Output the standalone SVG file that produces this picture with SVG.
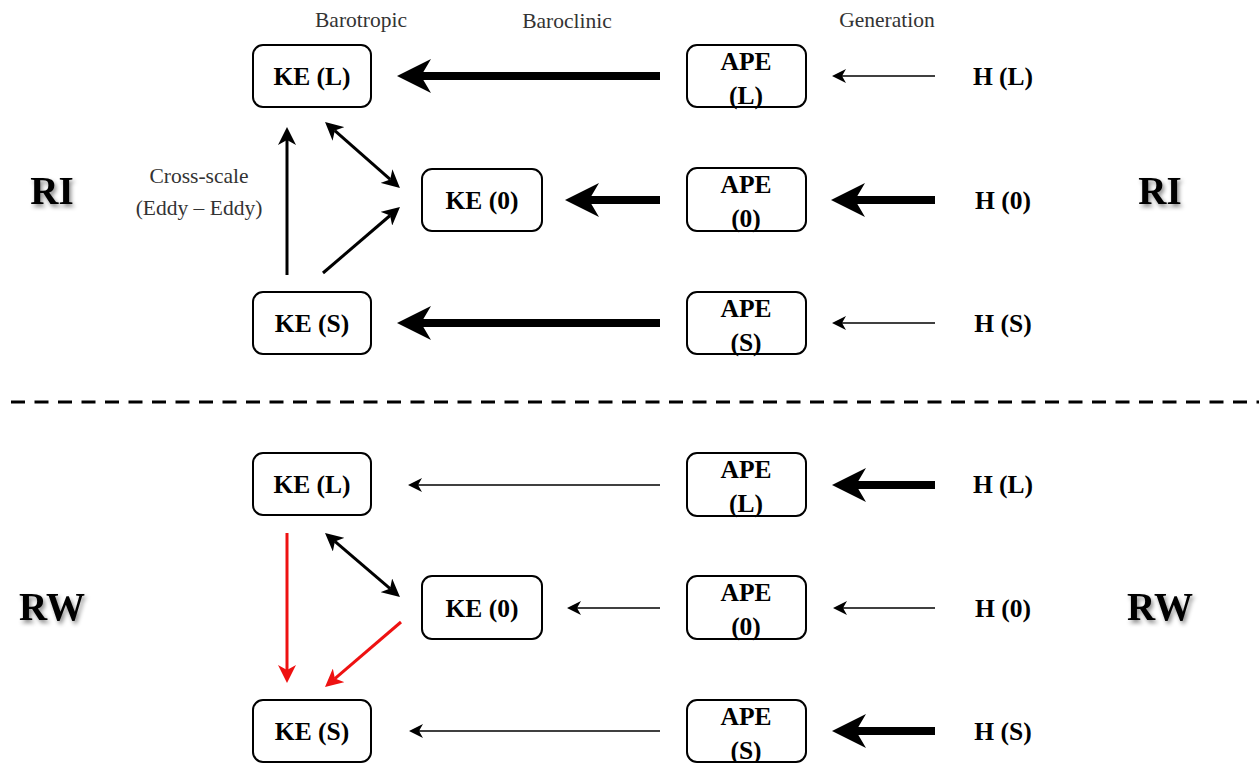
<svg xmlns="http://www.w3.org/2000/svg" width="1259" height="763" viewBox="0 0 1259 763">
<style>
.box{fill:#fff;stroke:#000;stroke-width:2}
.lbl{font-family:"Liberation Serif","Times New Roman",serif;font-weight:bold;font-size:25.5px;fill:#000;text-anchor:middle}
.hdr{font-family:"Liberation Serif","Times New Roman",serif;font-size:21.5px;fill:#333;text-anchor:middle}
.big{font-family:"Liberation Serif","Times New Roman",serif;font-weight:bold;font-size:39px;fill:#000;text-anchor:middle;filter:url(#sh)}
.thick{stroke:#000;stroke-width:8;fill:none;marker-end:url(#mBig)}
.thin{stroke:#000;stroke-width:1.5;fill:none;marker-end:url(#mSmall)}
.med{stroke:#000;stroke-width:3;fill:none;marker-end:url(#mMed)}
.dbl{stroke:#000;stroke-width:3;fill:none;marker-end:url(#mMed);marker-start:url(#mMed)}
.red{stroke:#ee1111;stroke-width:3;fill:none;marker-end:url(#mRed)}
</style>
<defs>
<filter id="sh" x="-20%" y="-20%" width="150%" height="150%">
<feDropShadow dx="2" dy="3" stdDeviation="2" flood-color="#000" flood-opacity="0.45"/>
</filter>
<marker id="mBig" markerUnits="userSpaceOnUse" viewBox="0 0 34 34" markerWidth="34" markerHeight="34" refX="10" refY="17" orient="auto">
<path d="M0,0 L34,17 L0,34 L10,17 z" fill="#000"/>
</marker>
<marker id="mMed" markerUnits="userSpaceOnUse" viewBox="0 0 18 18" markerWidth="18" markerHeight="18" refX="5" refY="9" orient="auto-start-reverse">
<path d="M0,0 L18,9 L0,18 L5,9 z" fill="#000"/>
</marker>
<marker id="mRed" markerUnits="userSpaceOnUse" viewBox="0 0 18 18" markerWidth="18" markerHeight="18" refX="5" refY="9" orient="auto">
<path d="M0,0 L18,9 L0,18 L5,9 z" fill="#ee1111"/>
</marker>
<marker id="mSmall" markerUnits="userSpaceOnUse" viewBox="0 0 14 14" markerWidth="14" markerHeight="14" refX="4" refY="7" orient="auto">
<path d="M0,0 L14,7 L0,14 L4,7 z" fill="#000"/>
</marker>
</defs>
<rect width="1259" height="763" fill="#fff"/>

<g id="headers">
<text class="hdr" x="361" y="27">Barotropic</text>
<text class="hdr" x="567" y="28">Baroclinic</text>
<text class="hdr" x="887" y="27">Generation</text>
<text class="hdr" x="199" y="183">Cross-scale</text>
<text class="hdr" x="199" y="215">(Eddy – Eddy)</text>
</g>

<g id="regimes">
<text class="big" x="52" y="204">RI</text>
<text class="big" x="1160" y="204">RI</text>
<text class="big" x="52" y="620">RW</text>
<text class="big" x="1160" y="620">RW</text>
</g>

<line id="divider" x1="11" y1="402" x2="1259" y2="402" stroke="#000" stroke-width="3" stroke-dasharray="14 9.5"/>

<g id="connectors">
<line class="thick" x1="660" y1="76" x2="421" y2="76"/>
<line class="thin" x1="935" y1="76" x2="842" y2="76"/>
<line class="thick" x1="660" y1="200" x2="589" y2="200"/>
<line class="thick" x1="935" y1="200" x2="855" y2="200"/>
<line class="thick" x1="660" y1="323" x2="421" y2="323"/>
<line class="thin" x1="935" y1="323" x2="842" y2="323"/>
<line class="med" x1="287" y1="275" x2="287" y2="140"/>
<line class="dbl" x1="334.8" y1="130.6" x2="390.2" y2="179.4"/>
<line class="med" x1="323" y1="273" x2="390.1" y2="215.5"/>

<line class="thin" x1="660" y1="485" x2="418" y2="485"/>
<line class="thick" x1="935" y1="485" x2="856" y2="485"/>
<line class="thin" x1="660" y1="608" x2="577" y2="608"/>
<line class="thin" x1="935" y1="608" x2="843" y2="608"/>
<line class="thin" x1="660" y1="731" x2="419" y2="731"/>
<line class="thick" x1="935" y1="731" x2="856" y2="731"/>
<line class="red" x1="287" y1="533" x2="287" y2="670"/>
<line class="dbl" x1="334.9" y1="541.4" x2="390.1" y2="588.6"/>
<line class="red" x1="401" y1="622" x2="334.9" y2="678.6"/>
</g>

<g id="ri-ke-l"><rect class="box" x="253" y="45" width="118" height="62" rx="10"/><text class="lbl" x="312" y="85">KE (L)</text></g>
<g id="ri-ke-0"><rect class="box" x="422" y="169" width="120" height="62" rx="10"/><text class="lbl" x="482" y="209">KE (0)</text></g>
<g id="ri-ke-s"><rect class="box" x="253" y="292" width="118" height="62" rx="10"/><text class="lbl" x="312" y="332">KE (S)</text></g>
<g id="ri-ape-l"><rect class="box" x="687" y="45" width="119" height="62" rx="10"/><text class="lbl" x="746" y="70">APE</text><text class="lbl" x="746" y="104">(L)</text></g>
<g id="ri-ape-0"><rect class="box" x="687" y="168" width="119" height="63" rx="10"/><text class="lbl" x="746" y="193">APE</text><text class="lbl" x="746" y="227">(0)</text></g>
<g id="ri-ape-s"><rect class="box" x="687" y="292" width="119" height="62" rx="10"/><text class="lbl" x="746" y="317">APE</text><text class="lbl" x="746" y="351">(S)</text></g>
<g id="ri-h-l"><text class="lbl" x="1003" y="85">H (L)</text></g>
<g id="ri-h-0"><text class="lbl" x="1003" y="209">H (0)</text></g>
<g id="ri-h-s"><text class="lbl" x="1003" y="332">H (S)</text></g>

<g id="rw-ke-l"><rect class="box" x="253" y="453" width="118" height="62" rx="10"/><text class="lbl" x="312" y="493">KE (L)</text></g>
<g id="rw-ke-0"><rect class="box" x="422" y="576" width="120" height="63" rx="10"/><text class="lbl" x="482" y="617">KE (0)</text></g>
<g id="rw-ke-s"><rect class="box" x="253" y="700" width="118" height="62" rx="10"/><text class="lbl" x="312" y="740">KE (S)</text></g>
<g id="rw-ape-l"><rect class="box" x="687" y="453" width="119" height="63" rx="10"/><text class="lbl" x="746" y="478">APE</text><text class="lbl" x="746" y="512">(L)</text></g>
<g id="rw-ape-0"><rect class="box" x="687" y="576" width="119" height="63" rx="10"/><text class="lbl" x="746" y="601">APE</text><text class="lbl" x="746" y="635">(0)</text></g>
<g id="rw-ape-s"><rect class="box" x="687" y="700" width="119" height="62" rx="10"/><text class="lbl" x="746" y="725">APE</text><text class="lbl" x="746" y="759">(S)</text></g>
<g id="rw-h-l"><text class="lbl" x="1003" y="493">H (L)</text></g>
<g id="rw-h-0"><text class="lbl" x="1003" y="617">H (0)</text></g>
<g id="rw-h-s"><text class="lbl" x="1003" y="740">H (S)</text></g>
</svg>
